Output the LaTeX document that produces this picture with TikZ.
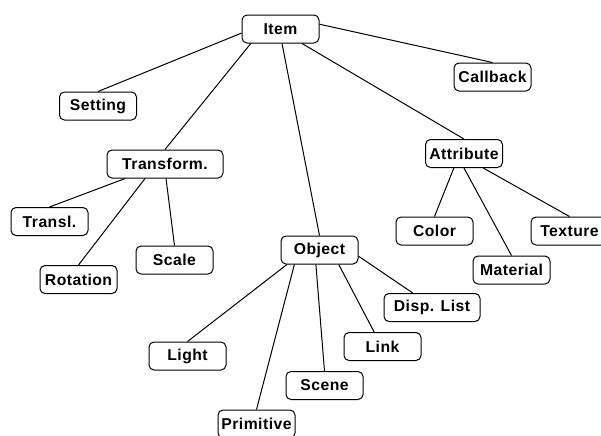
\documentclass[tikz,border=0pt]{standalone}
\usepackage{fontspec}
\setmainfont{Liberation Sans}[LetterSpace=3]
\usepackage{tikz}

\begin{document}
\begin{tikzpicture}[x=0.75pt,y=-0.75pt,
  box/.style={draw,line width=0.75pt,rounded corners=3.75pt,fill=white,minimum width=57.75pt,minimum height=21pt,inner sep=0pt,font=\fontsize{11.8}{13}\selectfont\bfseries},
  conn/.style={line width=0.75pt}]
\fill[white] (0,0) rectangle (601,436);
\useasboundingbox (0,0) rectangle (601,436);
\node[box] (item) at (280.5,29) {Item};
\node[box] (setting) at (98,106) {Setting};
\node[box,minimum width=87pt] (transform) at (165,164) {Transform.};
\node[box] (callback) at (492.5,77) {Callback};
\node[box] (attribute) at (464,153.5) {Attribute};
\node[box] (transl) at (49.5,221.5) {Transl.};
\node[box] (scale) at (174.5,260) {Scale};
\node[box] (rotation) at (78.5,279.5) {Rotation};
\node[box] (object) at (319.5,250) {Object};
\node[box] (color) at (434.5,231) {Color};
\node[box] (texture) at (569.5,231) {Texture};
\node[box] (material) at (511.5,270) {Material};
\node[box,minimum width=72pt] (displist) at (432,307.5) {Disp. List};
\node[box] (link) at (382.5,346.5) {Link};
\node[box] (light) at (187.5,356) {Light};
\node[box] (scene) at (324.5,385.5) {Scene};
\node[box] (primitive) at (256.5,424) {Primitive};
\draw[conn] (item.186) -- (setting.north);
\draw[conn] (item.206) -- (transform.north);
\draw[conn] (item.276) -- (object.north);
\draw[conn] (item.326) -- (attribute.north);
\draw[conn] (item.7) -- (callback.north);
\draw[conn] (transform.200) -- (transl.north);
\draw[conn] (transform.216) -- (rotation.north);
\draw[conn] (transform.274) -- (scale.north);
\draw[conn] (attribute.235) -- (color.north);
\draw[conn] (attribute.270) -- (material.north);
\draw[conn] (attribute.323) -- (texture.north);
\draw[conn] (object.204) -- (light.north);
\draw[conn] (object.210) -- (primitive.north);
\draw[conn] (object.256) -- (scene.north);
\draw[conn] (object.323) -- (link.120);
\draw[conn] (object.351) -- (displist.143);
\end{tikzpicture}
\end{document}
